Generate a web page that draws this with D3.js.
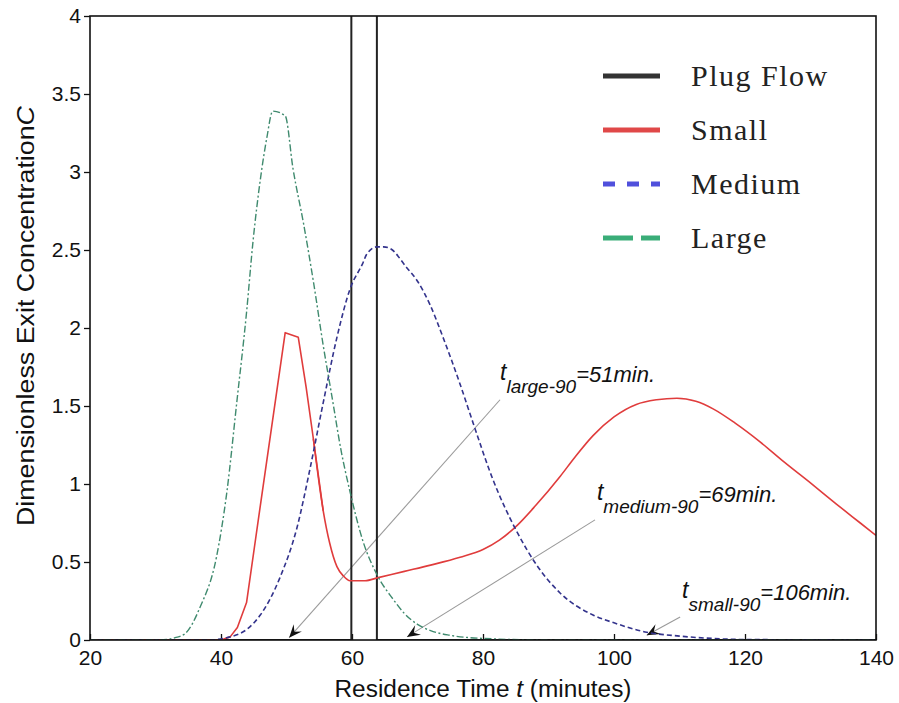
<!DOCTYPE html>
<html>
<head>
<meta charset="utf-8">
<script src="https://cdn.jsdelivr.net/npm/d3@7"></script>
<style>
	body { margin:0; background:#fff; }
	.axis text { font-family:"Liberation Sans", Arial, sans-serif; font-size:21px; fill:#111; }
	.axis line { stroke:#111; stroke-width:1.3; }
	.title { font-family:"Liberation Sans", Arial, sans-serif; font-size:23px; fill:#111; }
	.legend text { font-family:"Liberation Serif", "Times New Roman", serif; font-size:30px; letter-spacing:1.5px; fill:#222; }
	.note { font-family:"Liberation Sans", Arial, sans-serif; font-style:italic; fill:#111; }
</style>
</head>
<body>
<div id="svgContainer"></div>
<script>
// values (t in minutes, C dimensionless)
var tPlug = [20, 59.9, 59.9, 63.8, 63.8, 140];
var cPlug = [0, 0, 40, 40, 0, 0]; // spike goes far above the top of the axis

var tSmall = [20, 40, 41.4, 42.5, 43.9, 46, 49.8, 51.8, 53, 54.1, 55.6, 56.6, 57.7, 58.7, 59.7, 62, 64, 68, 72, 76.5, 80, 82.5, 85.1, 88, 91.8, 94, 96.8, 100, 103.4, 106.5, 109.6, 112.5, 115.2, 118.5, 122.3, 126, 129.9, 134, 137.6, 140];
var cSmall = [0, 0, 0.02, 0.08, 0.24, 0.86, 1.97, 1.94, 1.62, 1.29, 0.83, 0.62, 0.47, 0.41, 0.38, 0.38, 0.40, 0.44, 0.48, 0.53, 0.58, 0.64, 0.73, 0.86, 1.05, 1.17, 1.31, 1.43, 1.51, 1.54, 1.55, 1.53, 1.48, 1.39, 1.27, 1.14, 1.01, 0.87, 0.75, 0.67];

var tMedium = [20, 38, 41.4, 44, 46, 49, 51.6, 53.6, 55.6, 57.7, 59.7, 61.7, 62.2, 63.8, 64.8, 65.8, 68.3, 70, 71.9, 73.9, 76.5, 78.5, 81.5, 85.1, 88.2, 91.8, 96.8, 100, 105, 110, 115, 120, 140];
var cMedium = [0, 0, 0.02, 0.07, 0.16, 0.40, 0.72, 1.10, 1.52, 1.94, 2.25, 2.42, 2.47, 2.52, 2.52, 2.51, 2.39, 2.30, 2.15, 1.94, 1.64, 1.39, 1.03, 0.70, 0.48, 0.30, 0.16, 0.11, 0.05, 0.025, 0.01, 0.003, 0];

var tLarge = [20, 30, 32, 33, 34.5, 36.8, 39.3, 40.9, 42.4, 43.9, 44.9, 46, 47, 47.9, 49.8, 51, 52.6, 54.1, 55.6, 56.9, 58.4, 59.7, 61.7, 63.8, 66.3, 68, 70, 72, 75, 80, 90, 140];
var cLarge = [0, 0, 0.005, 0.015, 0.04, 0.21, 0.53, 0.95, 1.52, 2.10, 2.56, 2.95, 3.22, 3.39, 3.36, 3.02, 2.67, 2.30, 1.89, 1.57, 1.20, 0.95, 0.63, 0.42, 0.26, 0.17, 0.10, 0.06, 0.03, 0.01, 0, 0];

var legendLabels = ["Plug Flow", "Small", "Medium", "Large"];

var xTicks = [20, 40, 60, 80, 100, 120, 140];
var yTicks = [0, 0.5, 1, 1.5, 2, 2.5, 3, 3.5, 4];
var yTickLabels = ["0", "0.5", "1", "1.5", "2", "2.5", "3", "3.5", "4"];

// 90 % residence time annotations
var noteSubs = ["large-90", "medium-90", "small-90"];
var noteValues = ["=51min.", "=69min.", "=106min."];
var noteTips = [[50.4, 0.015], [68.4, 0.02], [105, 0.03]];
var noteTails = [[82.6, 1.54], [97.1, 0.77], [110.1, 0.147]];
var noteTexts = [[82.6, 1.667], [97.4, 0.9], [110.4, 0.27]];

const width = 899, height = 703;
const margin = {top:16, bottom:63, left:90, right:23};
var w = width - margin.left - margin.right;
var h = height - margin.top - margin.bottom;

var styles = [
	{line:"#222", legend:"#333", dash:null, lw:2, legendDash:null},
	{line:"#e03c3c", legend:"#e04848", dash:null, lw:1.6, legendDash:null},
	{line:"#33338c", legend:"#5050dc", dash:"5,3", lw:1.6, legendDash:"12,12"},
	{line:"#3f8a6e", legend:"#3aad78", dash:"7,2.5,2,2.5", lw:1.4, legendDash:"30,8"}
];

function zip(ts, cs) {
	return ts.map(function (t, i) { return {x:t, y:cs[i]}; });
}
var series = [zip(tPlug, cPlug), zip(tSmall, cSmall), zip(tMedium, cMedium), zip(tLarge, cLarge)];

var xScale = d3.scaleLinear().domain([20, 140]).range([0, w]);
var yScale = d3.scaleLinear().domain([0, 4]).range([h, 0]);

var svg = d3.select("#svgContainer").append("svg")
	.attr("width", width).attr("height", height);

svg.append("defs").append("clipPath").attr("id", "plotClip")
	.append("rect").attr("width", w).attr("height", h);

var g = svg.append("g").attr("transform", "translate(" + margin.left + "," + margin.top + ")");

//axis
var xAxis = d3.axisBottom(xScale).tickValues(xTicks).tickSizeInner(-6).tickSizeOuter(0).tickPadding(10);
var yAxis = d3.axisLeft(yScale).tickValues(yTicks).tickSize(6).tickPadding(3)
	.tickFormat(function (d, i) { return yTickLabels[i]; });

g.append("g").attr("class", "x axis").attr("transform", "translate(0," + h + ")").call(xAxis)
	.select(".domain").remove();
g.append("g").attr("class", "y axis").call(yAxis)
	.select(".domain").remove();

//annotations lines (drawn under the curves)
var notes = g.append("g").attr("class", "notes");
noteTips.forEach(function (tip, i) {
	var x1 = xScale(noteTails[i][0]), y1 = yScale(noteTails[i][1]);
	var x2 = xScale(tip[0]), y2 = yScale(tip[1]);
	notes.append("line")
		.attr("x1", x1).attr("y1", y1).attr("x2", x2).attr("y2", y2)
		.attr("stroke", "#9a9a9a").attr("stroke-width", 1.1);
	var a = Math.atan2(y2 - y1, x2 - x1);
	notes.append("path")
		.attr("d", "M0,0 L-13,-5.5 L-8,0 L-13,5.5 Z")
		.attr("fill", "#111")
		.attr("transform", "translate(" + x2 + "," + y2 + ") rotate(" + (a * 180 / Math.PI) + ")");
});

//series
var lineFunction = d3.line()
	.x(function (d) { return xScale(d.x); })
	.y(function (d) { return yScale(d.y); });

var curves = g.append("g").attr("clip-path", "url(#plotClip)");

function drawPath(data, st, curve) {
	curves.append("path")
		.datum(data)
		.attr("d", lineFunction.curve(curve))
		.attr("fill", "none")
		.attr("stroke", st.line)
		.attr("stroke-width", st.lw)
		.attr("stroke-dasharray", st.dash)
		.attr("stroke-linejoin", "round");
}

drawPath(series[0], styles[0], d3.curveLinear);
// small: sharp peak kept with straight segments, smooth tail after the dip
drawPath(series[1].filter(function (d) { return d.x <= 55.6; }), styles[1], d3.curveLinear);
drawPath(series[1].filter(function (d) { return d.x >= 54.1; }), styles[1], d3.curveMonotoneX);
drawPath(series[2], styles[2], d3.curveMonotoneX);
drawPath(series[3], styles[3], d3.curveMonotoneX);

//box
g.append("rect").attr("width", w).attr("height", h)
	.attr("fill", "none").attr("stroke", "#111").attr("stroke-width", 1.6);

//annotation texts
noteTexts.forEach(function (p, i) {
	var t = notes.append("text").attr("class", "note")
		.attr("x", xScale(p[0])).attr("y", yScale(p[1]));
	t.append("tspan").attr("font-size", "23px").text("t");
	t.append("tspan").attr("font-size", "19px").attr("dy", 13).text(noteSubs[i]);
	t.append("tspan").attr("font-size", "22px").attr("dy", -11).text(noteValues[i]);
});

//legend
var legend = svg.append("g").attr("class", "legend").attr("transform", "translate(603,76)");
legendLabels.forEach(function (label, i) {
	var row = legend.append("g").attr("transform", "translate(0," + (i * 54) + ")");
	row.append("line")
		.attr("x1", 0).attr("x2", 57).attr("y1", 0).attr("y2", 0)
		.attr("stroke", styles[i].legend).attr("stroke-width", 5)
		.attr("stroke-dasharray", styles[i].legendDash);
	row.append("text").attr("x", 88).attr("y", 10).text(label);
});

//axis titles
var xt = svg.append("text").attr("class", "title")
	.attr("x", margin.left + w / 2).attr("y", 697)
	.attr("text-anchor", "middle")
	.attr("textLength", 297).attr("lengthAdjust", "spacingAndGlyphs");
xt.append("tspan").text("Residence Time ");
xt.append("tspan").attr("font-style", "italic").text("t");
xt.append("tspan").text(" (minutes)");

var yt = svg.append("text").attr("class", "title")
	.attr("transform", "translate(34,316) rotate(-90)")
	.attr("text-anchor", "middle")
	.attr("textLength", 420).attr("lengthAdjust", "spacingAndGlyphs");
yt.append("tspan").text("Dimensionless Exit Concentration");
yt.append("tspan").attr("font-style", "italic").text("C");
</script>
</body>
</html>
